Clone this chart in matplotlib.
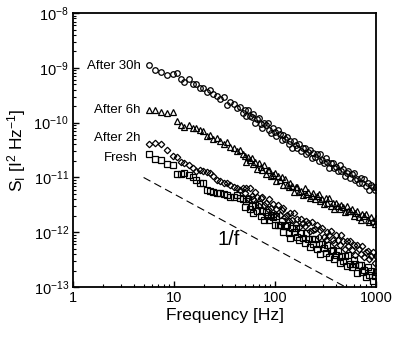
import numpy as np
import matplotlib
matplotlib.use('Agg')
import matplotlib.pyplot as plt

plt.rcParams['font.family'] = ['Liberation Sans', 'DejaVu Sans']
plt.rcParams['mathtext.fontset'] = 'custom'
plt.rcParams['mathtext.rm'] = 'Liberation Sans'
plt.rcParams['mathtext.it'] = 'Liberation Sans:italic'

# frequencies [Hz] (same grid for all curves)
freq_low = [5.6, 6.5, 7.5, 8.6, 9.7, 10.6, 11.6, 12.7, 14, 15.3, 16.5, 18, 19.5,
            21, 22.5, 24.5, 26.5, 28.5, 31, 33.5, 36, 39, 42, 45, 48]
freq_high = [50, 52, 54, 56.3, 58.6, 61, 63.5, 66, 69, 72, 75, 78, 81, 84.5, 88,
             91.5, 95, 99, 103, 107, 112, 116, 121, 126, 131, 137, 142, 148, 154,
             160, 167, 174, 181, 188, 196, 204, 212, 221, 230, 239, 249, 259, 270,
             281, 292, 304, 317, 330, 343, 357, 372, 387, 403, 419, 436, 454, 473,
             492, 512, 533, 555, 578, 601, 626, 651, 678, 706, 734, 764, 795, 828,
             862, 897, 934, 972, 1000]

# log10 of S_I, estimated from the figure
logS_30h = [-8.94, -9.04, -9.08, -9.13, -9.12, -9.09, -9.20, -9.25, -9.21, -9.29,
            -9.30, -9.36, -9.37, -9.44, -9.40, -9.48, -9.52, -9.56, -9.54, -9.68,
            -9.62, -9.66, -9.74, -9.72, -9.82,
            -9.77, -9.87, -9.77, -9.88, -9.89, -9.85, -10.00, -9.93, -9.92, -10.03,
            -10.10, -10.00, -10.05, -10.01, -10.13, -10.18, -10.09, -10.17, -10.24, -10.13,
            -10.21, -10.32, -10.23, -10.30, -10.26, -10.38, -10.33, -10.46, -10.34, -10.40,
            -10.46, -10.38, -10.52, -10.46, -10.46, -10.57, -10.53, -10.49, -10.64, -10.56,
            -10.62, -10.57, -10.70, -10.58, -10.68, -10.73, -10.65, -10.71, -10.82, -10.73,
            -10.73, -10.83, -10.80, -10.89, -10.78, -10.89, -10.84, -10.97, -10.92, -10.88,
            -11.01, -10.94, -10.92, -11.05, -11.02, -11.10, -11.01, -11.10, -11.02, -11.16,
            -11.11, -11.22, -11.13, -11.18, -11.23, -11.17]
logS_6h = [-9.77, -9.77, -9.80, -9.83, -9.81, -9.97, -10.04, -10.07, -10.05, -10.09,
           -10.10, -10.14, -10.16, -10.24, -10.22, -10.30, -10.28, -10.34, -10.38, -10.36,
           -10.45, -10.47, -10.52, -10.50, -10.58,
           -10.60, -10.71, -10.62, -10.69, -10.64, -10.76, -10.71, -10.84, -10.74, -10.80,
           -10.86, -10.78, -10.93, -10.87, -10.87, -10.98, -10.95, -10.91, -11.06, -10.98,
           -11.05, -11.00, -11.14, -11.02, -11.13, -11.18, -11.10, -11.16, -11.27, -11.18,
           -11.17, -11.26, -11.24, -11.32, -11.20, -11.31, -11.26, -11.38, -11.33, -11.28,
           -11.40, -11.34, -11.31, -11.43, -11.40, -11.48, -11.38, -11.47, -11.38, -11.52,
           -11.47, -11.57, -11.47, -11.52, -11.57, -11.50, -11.53, -11.63, -11.52, -11.62,
           -11.62, -11.57, -11.71, -11.64, -11.62, -11.72, -11.78, -11.67, -11.71, -11.67,
           -11.78, -11.82, -11.73, -11.79, -11.85, -11.74]
logS_2h = [-10.38, -10.37, -10.38, -10.50, -10.61, -10.62, -10.71, -10.73, -10.77, -10.83,
           -10.88, -10.86, -10.88, -10.90, -10.92, -10.98, -11.05, -11.06, -11.10, -11.11,
           -11.14, -11.17, -11.20, -11.23, -11.20,
           -11.28, -11.19, -11.38, -11.19, -11.34, -11.40, -11.27, -11.35, -11.52, -11.37,
           -11.36, -11.50, -11.46, -11.58, -11.40, -11.56, -11.48, -11.67, -11.58, -11.51,
           -11.69, -11.59, -11.55, -11.73, -11.68, -11.80, -11.65, -11.77, -11.64, -11.85,
           -11.76, -11.91, -11.76, -11.83, -11.89, -11.79, -11.84, -11.97, -11.81, -11.96,
           -11.94, -11.87, -12.08, -11.96, -11.93, -12.08, -12.15, -11.99, -12.05, -11.97,
           -12.14, -12.20, -12.05, -12.14, -12.23, -12.05, -12.16, -12.31, -12.16, -12.25,
           -12.16, -12.32, -12.24, -12.42, -12.24, -12.31, -12.39, -12.25, -12.46, -12.36,
           -12.34, -12.49, -12.43, -12.36, -12.57, -12.44]
logS_fresh = [-10.57, -10.67, -10.69, -10.76, -10.77, -10.93, -10.94, -10.91, -10.96, -11.00,
              -11.05, -11.11, -11.10, -11.23, -11.24, -11.26, -11.29, -11.29, -11.31, -11.32,
              -11.35, -11.36, -11.32, -11.38, -11.40,
              -11.53, -11.43, -11.39, -11.57, -11.52, -11.64, -11.50, -11.62, -11.49, -11.71,
              -11.62, -11.78, -11.63, -11.71, -11.78, -11.68, -11.73, -11.87, -11.71, -11.87,
              -11.86, -11.79, -12.00, -11.89, -11.86, -12.02, -12.10, -11.93, -12.00, -11.92,
              -12.09, -12.15, -12.01, -12.10, -12.19, -12.01, -12.12, -12.27, -12.12, -12.22,
              -12.13, -12.30, -12.21, -12.39, -12.21, -12.29, -12.37, -12.23, -12.45, -12.34,
              -12.33, -12.48, -12.42, -12.35, -12.56, -12.43, -12.52, -12.44, -12.62, -12.42,
              -12.58, -12.64, -12.51, -12.58, -12.75, -12.60, -12.59, -12.73, -12.68, -12.81,
              -12.63, -12.78, -12.71, -12.89, -12.80, -12.73]

# 1/f guide line
guide_f = [5, 500]
guide_S = [1e-11, 1e-13]

series = [(logS_30h, 'o', 'After 30h'),
          (logS_6h, '^', 'After 6h'),
          (logS_2h, 'D', 'After 2h'),
          (logS_fresh, 's', 'Fresh')]

fig = plt.figure(figsize=(4.0, 3.45), dpi=100)
ax = fig.add_axes([0.1825, 0.168, 0.7575, 0.794])

f = np.array(freq_low + freq_high)
for logS, mk, name in series:
    ms = 3.3 if mk == 'D' else 4.0
    ax.plot(f, 10 ** np.array(logS), linestyle='none', marker=mk, ms=ms,
            mfc='none', mec='black', mew=0.9)

ax.plot(guide_f, guide_S, color='black', lw=0.8, dashes=(7, 4))

ax.set_xscale('log')
ax.set_yscale('log')
ax.set_xlim(1, 1000)
ax.set_ylim(1e-13, 1e-8)
ax.set_xticks([1, 10, 100, 1000])
ax.set_xticklabels(['1', '10', '100', '1000'])
ax.set_yticks([1e-13, 1e-12, 1e-11, 1e-10, 1e-9, 1e-8])
ax.set_yticklabels([r'$10^{%d}$' % e for e in range(-13, -7)])
ax.tick_params(which='both', direction='in', top=False, right=False,
               labelsize=10.5, pad=3)
ax.tick_params(which='major', length=4, width=1)
ax.tick_params(which='minor', length=2.5, width=0.8)
for sp in ax.spines.values():
    sp.set_linewidth(1.3)

ax.set_xlabel('Frequency [Hz]', fontsize=12.5, labelpad=2)
ax.set_ylabel(r'S$_\mathrm{I}$ [I$^2$ Hz$^{-1}$]', fontsize=12.5, labelpad=4)

label_pos = {'After 30h': (0.224, 0.807), 'After 6h': (0.224, 0.646),
             'After 2h': (0.224, 0.544), 'Fresh': (0.215, 0.471)}
for logS, mk, name in series:
    x, y = label_pos[name]
    ax.text(x, y, name, transform=ax.transAxes, ha='right', va='center',
            fontsize=9.5)
ax.text(0.515, 0.172, '1/f', transform=ax.transAxes, ha='center',
        va='center', fontsize=14.5)

plt.savefig('out.png', dpi=100)
plt.close()
